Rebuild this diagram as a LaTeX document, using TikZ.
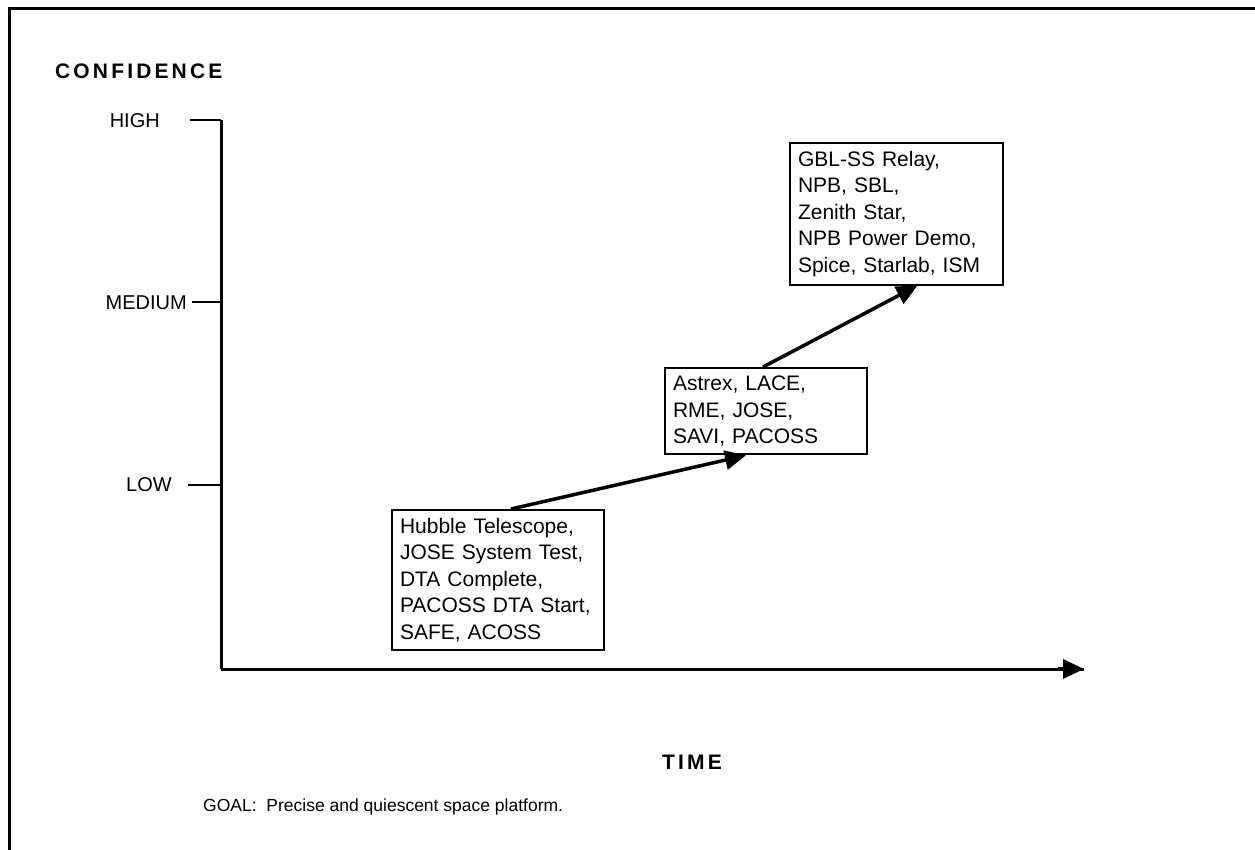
\documentclass[tikz,border=0pt]{standalone}
\usepackage{fontspec}
\setmainfont{Liberation Sans}
\usetikzlibrary{arrows.meta,calc}
\begin{document}
\begin{tikzpicture}[x=1pt,y=-1pt,
  lbl/.style={font=\fontsize{20}{26}\selectfont, inner sep=0pt},
  boxnode/.style={draw, line width=2pt, align=left, font=\fontsize{21}{26.5}\selectfont, inner xsep=8pt, inner ysep=8pt, anchor=north west},
  axisline/.style={line width=3pt},
  arr/.style={line width=3.5pt, -{Triangle[length=21pt,width=19pt]}},
  tickline/.style={line width=2.5pt},
  head/.style={font=\fontsize{21}{26}\selectfont\bfseries\addfontfeature{LetterSpace=15}, inner sep=0pt},
  goal/.style={font=\fontsize{17.5}{22}\selectfont, inner sep=0pt, anchor=west}
]
\useasboundingbox (0,0) rectangle (1255,850);
% frame
\coordinate (fbl) at (9,850);
\coordinate (ftl) at (9,9);
\coordinate (ftr) at (1255,9);
\draw[line width=3pt] (fbl) -- (ftl) -- (ftr);

% axes
\coordinate (ytop) at (221,120);
\coordinate (orig) at (221,669);
\coordinate (xend) at (1084,669);
\draw[axisline] (ytop) -- (orig);
\draw[axisline] (orig) -- (xend);
\draw[arr] ($(orig)!0.97!(xend)$) -- (xend);

% ticks
\coordinate (thigh) at (190,120);
\coordinate (ahigh) at (221,120);
\coordinate (tmed) at (192,302);
\coordinate (amed) at (221,302);
\coordinate (tlow) at (188,485);
\coordinate (alow) at (221,485);
\draw[tickline] (thigh) -- (ahigh);
\draw[tickline] (tmed) -- (amed);
\draw[tickline] (tlow) -- (alow);

% labels
\node[head, anchor=west] (conf) at (55,71) {CONFIDENCE};
\node[lbl, anchor=east] (high) at (160,121) {HIGH};
\node[lbl, anchor=east] (med) at (187,303) {MEDIUM};
\node[lbl, anchor=east] (low) at (172,485) {LOW};
\node[head] (time) at (692,762) {TIME};
\node[goal] (goalt) at (203,807) {GOAL:\ \ Precise and quiescent space platform.};

% boxes
\node[boxnode, text width=196pt] (b1) at (391,509) {Hubble Telescope,\\JOSE System Test,\\DTA Complete,\\PACOSS DTA Start,\\SAFE, ACOSS};
\node[boxnode, text width=186pt] (b2) at (664,367) {Astrex, LACE,\\RME, JOSE,\\SAVI, PACOSS};
\node[boxnode, text width=197pt] (b3) at (789,142) {GBL-SS Relay,\\NPB, SBL,\\Zenith Star,\\NPB Power Demo,\\Spice, Starlab, ISM};

% connectors
\draw[arr] ([xshift=13pt]b1.north) -- ([xshift=-20pt]b2.south);
\draw[arr] ([xshift=-3pt]b2.north) -- ([xshift=21pt]b3.south);
\end{tikzpicture}
\end{document}
